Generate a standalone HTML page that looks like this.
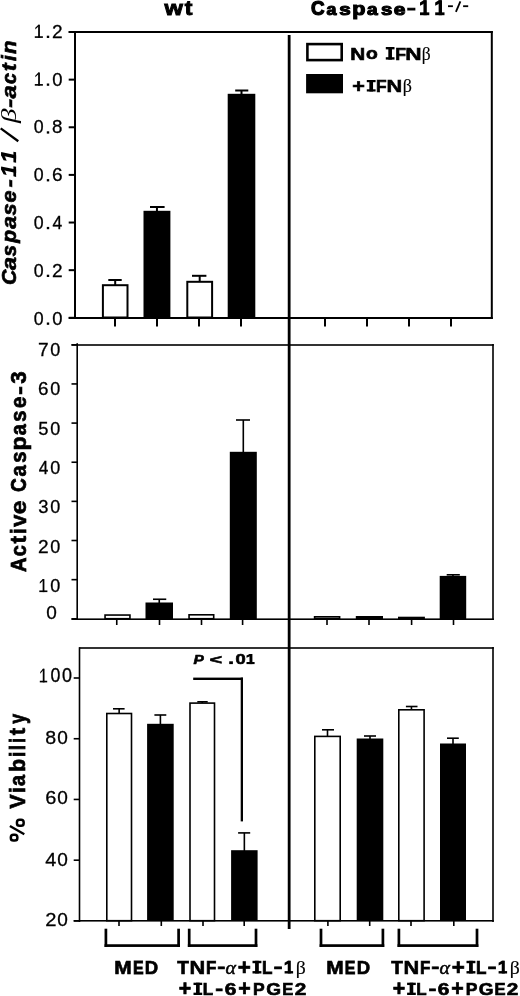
<!DOCTYPE html>
<html><head><meta charset="utf-8"><title>Caspase-11 figure</title>
<style>html,body{margin:0;padding:0;background:#fff;} svg{display:block;will-change:transform;}</style></head>
<body>
<svg width="520" height="996" viewBox="0 0 520 996">
<rect x="0" y="0" width="520" height="996" fill="#fff"/>
<rect x="74.00" y="31.00" width="2.00" height="288.00" fill="#000"/>
<rect x="68.70" y="31.00" width="424.10" height="2.00" fill="#000"/>
<rect x="490.80" y="31.00" width="2.00" height="288.00" fill="#000"/>
<rect x="68.70" y="317.00" width="424.10" height="2.00" fill="#000"/>
<rect x="68.70" y="31.00" width="6.30" height="2.00" fill="#000"/>
<rect x="68.70" y="78.63" width="6.30" height="2.00" fill="#000"/>
<rect x="68.70" y="126.27" width="6.30" height="2.00" fill="#000"/>
<rect x="68.70" y="173.90" width="6.30" height="2.00" fill="#000"/>
<rect x="68.70" y="221.53" width="6.30" height="2.00" fill="#000"/>
<rect x="68.70" y="269.17" width="6.30" height="2.00" fill="#000"/>
<rect x="68.70" y="316.80" width="6.30" height="2.00" fill="#000"/>
<rect x="114.00" y="318.00" width="2.00" height="8.50" fill="#000"/>
<rect x="156.00" y="318.00" width="2.00" height="8.50" fill="#000"/>
<rect x="198.00" y="318.00" width="2.00" height="8.50" fill="#000"/>
<rect x="240.00" y="318.00" width="2.00" height="8.50" fill="#000"/>
<rect x="324.00" y="318.00" width="2.00" height="8.50" fill="#000"/>
<rect x="366.00" y="318.00" width="2.00" height="8.50" fill="#000"/>
<rect x="408.00" y="318.00" width="2.00" height="8.50" fill="#000"/>
<rect x="450.00" y="318.00" width="2.00" height="8.50" fill="#000"/>
<rect x="114.20" y="280.00" width="2.00" height="5.20" fill="#000"/>
<rect x="108.30" y="279.00" width="13.40" height="2.00" fill="#000"/>
<rect x="101.90" y="284.20" width="26.60" height="34.30" fill="#000"/>
<rect x="103.90" y="286.20" width="22.60" height="30.30" fill="#fff"/>
<rect x="155.95" y="207.00" width="2.00" height="4.80" fill="#000"/>
<rect x="150.00" y="206.00" width="14.60" height="2.00" fill="#000"/>
<rect x="143.50" y="210.80" width="26.90" height="107.20" fill="#000"/>
<rect x="198.70" y="275.80" width="2.00" height="6.00" fill="#000"/>
<rect x="192.00" y="274.80" width="14.40" height="2.00" fill="#000"/>
<rect x="186.30" y="280.80" width="26.80" height="37.70" fill="#000"/>
<rect x="188.30" y="282.80" width="22.80" height="33.70" fill="#fff"/>
<rect x="240.50" y="90.50" width="2.00" height="4.30" fill="#000"/>
<rect x="235.20" y="89.50" width="13.10" height="2.00" fill="#000"/>
<rect x="227.70" y="93.80" width="27.60" height="224.20" fill="#000"/>
<rect x="287.75" y="35.00" width="2.80" height="894.00" fill="#000"/>
<rect x="76.40" y="343.20" width="1.60" height="276.80" fill="#000"/>
<rect x="71.50" y="344.20" width="422.30" height="1.60" fill="#000"/>
<rect x="492.20" y="344.00" width="1.60" height="276.00" fill="#000"/>
<rect x="71.50" y="618.40" width="422.30" height="1.60" fill="#000"/>
<rect x="71.50" y="344.00" width="5.70" height="1.60" fill="#000"/>
<rect x="71.50" y="383.14" width="5.70" height="1.60" fill="#000"/>
<rect x="71.50" y="422.29" width="5.70" height="1.60" fill="#000"/>
<rect x="71.50" y="461.43" width="5.70" height="1.60" fill="#000"/>
<rect x="71.50" y="500.57" width="5.70" height="1.60" fill="#000"/>
<rect x="71.50" y="539.71" width="5.70" height="1.60" fill="#000"/>
<rect x="71.50" y="578.86" width="5.70" height="1.60" fill="#000"/>
<rect x="71.50" y="618.00" width="5.70" height="1.60" fill="#000"/>
<rect x="115.95" y="619.20" width="1.60" height="5.80" fill="#000"/>
<rect x="158.70" y="619.20" width="1.60" height="5.80" fill="#000"/>
<rect x="200.70" y="619.20" width="1.60" height="5.80" fill="#000"/>
<rect x="241.80" y="619.20" width="1.60" height="5.80" fill="#000"/>
<rect x="326.20" y="619.20" width="1.60" height="5.80" fill="#000"/>
<rect x="368.20" y="619.20" width="1.60" height="5.80" fill="#000"/>
<rect x="410.80" y="619.20" width="1.60" height="5.80" fill="#000"/>
<rect x="452.70" y="619.20" width="1.60" height="5.80" fill="#000"/>
<rect x="104.25" y="614.25" width="26.50" height="5.25" fill="#000"/>
<rect x="105.85" y="615.85" width="23.30" height="2.05" fill="#fff"/>
<rect x="158.45" y="599.25" width="1.60" height="4.25" fill="#000"/>
<rect x="153.00" y="598.45" width="13.25" height="1.60" fill="#000"/>
<rect x="145.50" y="602.50" width="27.50" height="16.50" fill="#000"/>
<rect x="188.25" y="614.00" width="26.25" height="5.50" fill="#000"/>
<rect x="189.85" y="615.60" width="23.05" height="2.30" fill="#fff"/>
<rect x="242.50" y="420.00" width="1.60" height="32.80" fill="#000"/>
<rect x="236.00" y="419.20" width="14.00" height="1.60" fill="#000"/>
<rect x="229.80" y="451.80" width="27.00" height="167.20" fill="#000"/>
<rect x="313.80" y="616.00" width="26.60" height="3.50" fill="#000"/>
<rect x="315.40" y="617.60" width="23.40" height="0.30" fill="#fff"/>
<rect x="355.80" y="616.00" width="27.20" height="3.00" fill="#000"/>
<rect x="398.00" y="616.70" width="26.90" height="2.80" fill="#000"/>
<rect x="452.15" y="574.80" width="1.60" height="2.10" fill="#000"/>
<rect x="446.70" y="574.00" width="13.10" height="1.60" fill="#000"/>
<rect x="439.70" y="575.90" width="26.50" height="43.10" fill="#000"/>
<rect x="78.70" y="647.20" width="1.60" height="274.80" fill="#000"/>
<rect x="79.20" y="647.20" width="414.60" height="1.60" fill="#000"/>
<rect x="492.20" y="647.00" width="1.60" height="275.00" fill="#000"/>
<rect x="73.70" y="920.00" width="420.10" height="1.60" fill="#000"/>
<rect x="73.70" y="677.20" width="5.50" height="1.60" fill="#000"/>
<rect x="73.70" y="737.93" width="5.50" height="1.60" fill="#000"/>
<rect x="73.70" y="798.65" width="5.50" height="1.60" fill="#000"/>
<rect x="73.70" y="859.38" width="5.50" height="1.60" fill="#000"/>
<rect x="73.70" y="920.10" width="5.50" height="1.60" fill="#000"/>
<rect x="118.20" y="920.80" width="1.60" height="5.20" fill="#000"/>
<rect x="160.50" y="920.80" width="1.60" height="5.20" fill="#000"/>
<rect x="202.20" y="920.80" width="1.60" height="5.20" fill="#000"/>
<rect x="243.40" y="920.80" width="1.60" height="5.20" fill="#000"/>
<rect x="327.10" y="920.80" width="1.60" height="5.20" fill="#000"/>
<rect x="368.90" y="920.80" width="1.60" height="5.20" fill="#000"/>
<rect x="410.20" y="920.80" width="1.60" height="5.20" fill="#000"/>
<rect x="453.00" y="920.80" width="1.60" height="5.20" fill="#000"/>
<rect x="118.35" y="708.80" width="1.60" height="4.90" fill="#000"/>
<rect x="113.00" y="708.00" width="11.60" height="1.60" fill="#000"/>
<rect x="106.00" y="712.70" width="26.30" height="208.80" fill="#000"/>
<rect x="107.60" y="714.30" width="23.10" height="205.60" fill="#fff"/>
<rect x="159.60" y="715.00" width="1.60" height="9.80" fill="#000"/>
<rect x="154.40" y="714.20" width="11.90" height="1.60" fill="#000"/>
<rect x="147.10" y="723.80" width="26.60" height="197.20" fill="#000"/>
<rect x="201.45" y="701.80" width="1.60" height="1.50" fill="#000"/>
<rect x="197.30" y="701.00" width="10.40" height="1.60" fill="#000"/>
<rect x="189.20" y="702.30" width="26.10" height="219.20" fill="#000"/>
<rect x="190.80" y="703.90" width="22.90" height="216.00" fill="#fff"/>
<rect x="243.55" y="832.90" width="1.60" height="18.30" fill="#000"/>
<rect x="238.10" y="832.10" width="12.10" height="1.60" fill="#000"/>
<rect x="231.10" y="850.20" width="26.50" height="70.80" fill="#000"/>
<rect x="326.70" y="729.80" width="1.60" height="6.80" fill="#000"/>
<rect x="322.00" y="729.00" width="12.00" height="1.60" fill="#000"/>
<rect x="314.00" y="735.60" width="27.00" height="185.90" fill="#000"/>
<rect x="315.60" y="737.20" width="23.80" height="182.70" fill="#fff"/>
<rect x="369.20" y="736.00" width="1.60" height="3.50" fill="#000"/>
<rect x="364.00" y="735.20" width="12.00" height="1.60" fill="#000"/>
<rect x="356.70" y="738.50" width="26.60" height="182.50" fill="#000"/>
<rect x="410.65" y="706.50" width="1.60" height="3.50" fill="#000"/>
<rect x="405.90" y="705.70" width="11.60" height="1.60" fill="#000"/>
<rect x="398.00" y="709.00" width="26.90" height="212.50" fill="#000"/>
<rect x="399.60" y="710.60" width="23.70" height="209.30" fill="#fff"/>
<rect x="452.20" y="738.20" width="1.60" height="6.30" fill="#000"/>
<rect x="447.00" y="737.40" width="11.80" height="1.60" fill="#000"/>
<rect x="440.00" y="743.50" width="26.00" height="177.50" fill="#000"/>
<rect x="193.20" y="677.60" width="49.80" height="2.40" fill="#000"/>
<rect x="240.70" y="677.60" width="2.30" height="143.80" fill="#000"/>
<rect x="104.55" y="928.70" width="2.70" height="18.30" fill="#000"/>
<rect x="177.25" y="928.70" width="2.70" height="18.30" fill="#000"/>
<rect x="104.55" y="944.25" width="75.40" height="2.70" fill="#000"/>
<rect x="187.85" y="928.70" width="2.70" height="18.30" fill="#000"/>
<rect x="254.65" y="928.70" width="2.70" height="18.30" fill="#000"/>
<rect x="187.85" y="944.25" width="69.50" height="2.70" fill="#000"/>
<rect x="319.65" y="928.70" width="2.70" height="18.30" fill="#000"/>
<rect x="381.55" y="928.70" width="2.70" height="18.30" fill="#000"/>
<rect x="319.65" y="944.25" width="64.60" height="2.70" fill="#000"/>
<rect x="397.55" y="928.70" width="2.70" height="18.30" fill="#000"/>
<rect x="475.65" y="928.70" width="2.70" height="18.30" fill="#000"/>
<rect x="397.55" y="944.25" width="80.80" height="2.70" fill="#000"/>
<rect x="38.14" y="24.80" width="1.75" height="13.10"/>
<rect x="34.80" y="36.25" width="8.10" height="1.65"/>
<polygon points="38.34,24.80 39.59,24.80 38.14,26.80 35.29,29.53 35.29,27.85"/>
<rect x="46.80" y="35.70" width="2.40" height="2.30" fill="#000"/>
<text transform="translate(52.09,37.77) scale(1.0243,1)" font-family="Liberation Sans" font-weight="normal" font-style="normal" font-size="18.643862068965515" stroke="#000" stroke-width="0.293">2</text>
<rect x="38.14" y="72.60" width="1.75" height="13.10"/>
<rect x="34.80" y="84.05" width="8.10" height="1.65"/>
<polygon points="38.34,72.60 39.59,72.60 38.14,74.60 35.29,77.33 35.29,75.65"/>
<rect x="46.80" y="83.50" width="2.40" height="2.30" fill="#000"/>
<text transform="translate(52.13,85.57) scale(0.9874,1)" font-family="Liberation Sans" font-weight="normal" font-style="normal" font-size="18.643862068965515" stroke="#000" stroke-width="0.304">0</text>
<text transform="translate(33.86,133.37) scale(0.9537,1)" font-family="Liberation Sans" font-weight="normal" font-style="normal" font-size="18.643862068965497" stroke="#000" stroke-width="0.315">0</text>
<rect x="46.80" y="131.30" width="2.40" height="2.30" fill="#000"/>
<text transform="translate(52.04,133.37) scale(1.0059,1)" font-family="Liberation Sans" font-weight="normal" font-style="normal" font-size="18.643862068965497" stroke="#000" stroke-width="0.298">8</text>
<text transform="translate(33.86,181.17) scale(0.9537,1)" font-family="Liberation Sans" font-weight="normal" font-style="normal" font-size="18.643862068965515" stroke="#000" stroke-width="0.315">0</text>
<rect x="46.80" y="179.10" width="2.40" height="2.30" fill="#000"/>
<text transform="translate(51.88,181.17) scale(1.0229,1)" font-family="Liberation Sans" font-weight="normal" font-style="normal" font-size="18.643862068965515" stroke="#000" stroke-width="0.293">6</text>
<text transform="translate(33.86,228.97) scale(0.9537,1)" font-family="Liberation Sans" font-weight="normal" font-style="normal" font-size="18.643862068965515" stroke="#000" stroke-width="0.315">0</text>
<rect x="46.80" y="226.90" width="2.40" height="2.30" fill="#000"/>
<text transform="translate(52.45,228.97) scale(0.9367,1)" font-family="Liberation Sans" font-weight="normal" font-style="normal" font-size="18.643862068965515" stroke="#000" stroke-width="0.320">4</text>
<text transform="translate(33.86,276.77) scale(0.9537,1)" font-family="Liberation Sans" font-weight="normal" font-style="normal" font-size="18.643862068965515" stroke="#000" stroke-width="0.315">0</text>
<rect x="46.80" y="274.70" width="2.40" height="2.30" fill="#000"/>
<text transform="translate(52.09,276.77) scale(1.0243,1)" font-family="Liberation Sans" font-weight="normal" font-style="normal" font-size="18.643862068965515" stroke="#000" stroke-width="0.293">2</text>
<text transform="translate(33.86,324.57) scale(0.9537,1)" font-family="Liberation Sans" font-weight="normal" font-style="normal" font-size="18.643862068965515" stroke="#000" stroke-width="0.315">0</text>
<rect x="46.80" y="322.50" width="2.40" height="2.30" fill="#000"/>
<text transform="translate(52.13,324.57) scale(0.9874,1)" font-family="Liberation Sans" font-weight="normal" font-style="normal" font-size="18.643862068965515" stroke="#000" stroke-width="0.304">0</text>
<text transform="translate(38.07,356.27) scale(1.0343,1)" font-family="Liberation Sans" font-weight="normal" font-style="normal" font-size="18.50262068965514" stroke="#000" stroke-width="0.290">7</text>
<text transform="translate(50.35,356.27) scale(0.9723,1)" font-family="Liberation Sans" font-weight="normal" font-style="normal" font-size="18.50262068965514" stroke="#000" stroke-width="0.309">0</text>
<text transform="translate(38.09,395.27) scale(1.0190,1)" font-family="Liberation Sans" font-weight="normal" font-style="normal" font-size="18.50262068965514" stroke="#000" stroke-width="0.294">6</text>
<text transform="translate(50.35,395.27) scale(0.9723,1)" font-family="Liberation Sans" font-weight="normal" font-style="normal" font-size="18.50262068965514" stroke="#000" stroke-width="0.309">0</text>
<text transform="translate(38.32,434.67) scale(0.9917,1)" font-family="Liberation Sans" font-weight="normal" font-style="normal" font-size="18.50262068965514" stroke="#000" stroke-width="0.302">5</text>
<text transform="translate(50.35,434.67) scale(0.9723,1)" font-family="Liberation Sans" font-weight="normal" font-style="normal" font-size="18.50262068965514" stroke="#000" stroke-width="0.309">0</text>
<text transform="translate(38.65,473.87) scale(0.9331,1)" font-family="Liberation Sans" font-weight="normal" font-style="normal" font-size="18.50262068965514" stroke="#000" stroke-width="0.322">4</text>
<text transform="translate(50.35,473.87) scale(0.9723,1)" font-family="Liberation Sans" font-weight="normal" font-style="normal" font-size="18.50262068965514" stroke="#000" stroke-width="0.309">0</text>
<text transform="translate(38.35,513.27) scale(0.9917,1)" font-family="Liberation Sans" font-weight="normal" font-style="normal" font-size="18.50262068965522" stroke="#000" stroke-width="0.302">3</text>
<text transform="translate(50.35,513.27) scale(0.9723,1)" font-family="Liberation Sans" font-weight="normal" font-style="normal" font-size="18.50262068965522" stroke="#000" stroke-width="0.309">0</text>
<text transform="translate(38.09,552.77) scale(1.0321,1)" font-family="Liberation Sans" font-weight="normal" font-style="normal" font-size="18.50262068965514" stroke="#000" stroke-width="0.291">2</text>
<text transform="translate(50.35,552.77) scale(0.9723,1)" font-family="Liberation Sans" font-weight="normal" font-style="normal" font-size="18.50262068965514" stroke="#000" stroke-width="0.309">0</text>
<rect x="42.64" y="579.10" width="1.75" height="13.00"/>
<rect x="39.30" y="590.45" width="8.10" height="1.65"/>
<polygon points="42.84,579.10 44.09,579.10 42.64,581.10 39.79,583.80 39.79,582.12"/>
<text transform="translate(50.35,591.97) scale(0.9723,1)" font-family="Liberation Sans" font-weight="normal" font-style="normal" font-size="18.50262068965514" stroke="#000" stroke-width="0.309">0</text>
<text transform="translate(46.21,618.87) scale(1.0448,1)" font-family="Liberation Sans" font-weight="normal" font-style="normal" font-size="18.220137931034547" stroke="#000" stroke-width="0.287">0</text>
<rect x="42.77" y="668.80" width="1.75" height="13.60"/>
<rect x="39.80" y="680.75" width="7.40" height="1.65"/>
<polygon points="42.97,668.80 44.22,668.80 42.77,670.80 40.24,673.68 40.24,672.00"/>
<text transform="translate(50.46,682.26) scale(0.9189,1)" font-family="Liberation Sans" font-weight="normal" font-style="normal" font-size="19.35006896551724" stroke="#000" stroke-width="0.326">0</text>
<text transform="translate(61.95,682.26) scale(0.9297,1)" font-family="Liberation Sans" font-weight="normal" font-style="normal" font-size="19.35006896551724" stroke="#000" stroke-width="0.323">0</text>
<text transform="translate(45.30,743.57) scale(1.0437,1)" font-family="Liberation Sans" font-weight="normal" font-style="normal" font-size="18.785103448275894" stroke="#000" stroke-width="0.287">8</text>
<text transform="translate(57.21,743.57) scale(1.0134,1)" font-family="Liberation Sans" font-weight="normal" font-style="normal" font-size="18.785103448275894" stroke="#000" stroke-width="0.296">0</text>
<text transform="translate(45.14,804.07) scale(1.0614,1)" font-family="Liberation Sans" font-weight="normal" font-style="normal" font-size="18.785103448275894" stroke="#000" stroke-width="0.283">6</text>
<text transform="translate(57.21,804.07) scale(1.0134,1)" font-family="Liberation Sans" font-weight="normal" font-style="normal" font-size="18.785103448275894" stroke="#000" stroke-width="0.296">0</text>
<text transform="translate(45.19,865.57) scale(1.0564,1)" font-family="Liberation Sans" font-weight="normal" font-style="normal" font-size="18.785103448275894" stroke="#000" stroke-width="0.284">4</text>
<text transform="translate(57.21,865.57) scale(1.0134,1)" font-family="Liberation Sans" font-weight="normal" font-style="normal" font-size="18.785103448275894" stroke="#000" stroke-width="0.296">0</text>
<text transform="translate(45.13,926.07) scale(1.0750,1)" font-family="Liberation Sans" font-weight="normal" font-style="normal" font-size="18.785103448275894" stroke="#000" stroke-width="0.279">2</text>
<text transform="translate(57.21,926.07) scale(1.0134,1)" font-family="Liberation Sans" font-weight="normal" font-style="normal" font-size="18.785103448275894" stroke="#000" stroke-width="0.296">0</text>
<text transform="translate(114.35,973.50) scale(1.2012,1)" font-family="Liberation Sans" font-weight="bold" font-style="normal" font-size="17.442157558552232" stroke="#000" stroke-width="0.583">M</text>
<text transform="translate(132.88,973.50) scale(0.9146,1)" font-family="Liberation Sans" font-weight="bold" font-style="normal" font-size="17.442157558552232" stroke="#000" stroke-width="0.765">E</text>
<text transform="translate(144.76,973.50) scale(1.0611,1)" font-family="Liberation Sans" font-weight="bold" font-style="normal" font-size="17.442157558552232" stroke="#000" stroke-width="0.660">D</text>
<text transform="translate(326.25,973.50) scale(1.2012,1)" font-family="Liberation Sans" font-weight="bold" font-style="normal" font-size="17.442157558552232" stroke="#000" stroke-width="0.583">M</text>
<text transform="translate(344.78,973.50) scale(0.9146,1)" font-family="Liberation Sans" font-weight="bold" font-style="normal" font-size="17.442157558552232" stroke="#000" stroke-width="0.765">E</text>
<text transform="translate(356.66,973.50) scale(1.0611,1)" font-family="Liberation Sans" font-weight="bold" font-style="normal" font-size="17.442157558552232" stroke="#000" stroke-width="0.660">D</text>
<text transform="translate(177.24,973.50) scale(1.0904,1)" font-family="Liberation Sans" font-weight="bold" font-style="normal" font-size="17.442157558552232" stroke="#000" stroke-width="0.642">T</text>
<text transform="translate(189.49,973.50) scale(1.2483,1)" font-family="Liberation Sans" font-weight="bold" font-style="normal" font-size="17.442157558552232" stroke="#000" stroke-width="0.561">N</text>
<text transform="translate(206.02,973.50) scale(0.9719,1)" font-family="Liberation Sans" font-weight="bold" font-style="normal" font-size="17.442157558552232" stroke="#000" stroke-width="0.720">F</text>
<text transform="translate(217.30,973.07) scale(1.4000,1.0106)" font-family="Liberation Sans" font-weight="bold" font-style="normal" font-size="17.442157558552232" stroke="#000" stroke-width="0.581">-</text>
<text transform="translate(225.46,973.76) scale(1.1428,1.0350)" font-family="Liberation Serif" font-weight="normal" font-style="italic" font-size="17.442157558552232" stroke="#000" stroke-width="0.459">&#945;</text>
<text transform="translate(237.71,974.57) scale(1.2805,1.2532)" font-family="Liberation Sans" font-weight="bold" font-style="normal" font-size="17.442157558552232" stroke="#000" stroke-width="0.553">+</text>
<rect x="252.50" y="960.80" width="8.90" height="2.41"/>
<rect x="252.50" y="971.09" width="8.90" height="2.41"/>
<rect x="255.08" y="960.80" width="3.74" height="12.70"/>
<text transform="translate(262.10,973.50) scale(0.9831,1)" font-family="Liberation Sans" font-weight="bold" font-style="normal" font-size="17.442157558552232" stroke="#000" stroke-width="0.712">L</text>
<text transform="translate(273.47,973.07) scale(1.5806,1.0106)" font-family="Liberation Sans" font-weight="bold" font-style="normal" font-size="17.442157558552232" stroke="#000" stroke-width="0.540">-</text>
<rect x="287.75" y="960.80" width="3.06" height="12.70"/>
<rect x="284.60" y="971.09" width="8.50" height="2.41"/>
<polygon points="287.95,960.80 290.50,960.80 287.75,963.98 284.60,965.50 284.60,962.83"/>
<text transform="translate(295.70,973.97) scale(1.1342,1.0660)" font-family="Liberation Serif" font-weight="normal" font-style="normal" font-size="17.442157558552232" stroke="#000" stroke-width="0.136">&#946;</text>
<text transform="translate(391.24,973.50) scale(1.0904,1)" font-family="Liberation Sans" font-weight="bold" font-style="normal" font-size="17.442157558552232" stroke="#000" stroke-width="0.642">T</text>
<text transform="translate(403.49,973.50) scale(1.2483,1)" font-family="Liberation Sans" font-weight="bold" font-style="normal" font-size="17.442157558552232" stroke="#000" stroke-width="0.561">N</text>
<text transform="translate(420.02,973.50) scale(0.9719,1)" font-family="Liberation Sans" font-weight="bold" font-style="normal" font-size="17.442157558552232" stroke="#000" stroke-width="0.720">F</text>
<text transform="translate(431.30,973.07) scale(1.4000,1.0106)" font-family="Liberation Sans" font-weight="bold" font-style="normal" font-size="17.442157558552232" stroke="#000" stroke-width="0.581">-</text>
<text transform="translate(439.46,973.76) scale(1.1428,1.0350)" font-family="Liberation Serif" font-weight="normal" font-style="italic" font-size="17.442157558552232" stroke="#000" stroke-width="0.459">&#945;</text>
<text transform="translate(451.71,974.57) scale(1.2805,1.2532)" font-family="Liberation Sans" font-weight="bold" font-style="normal" font-size="17.442157558552232" stroke="#000" stroke-width="0.553">+</text>
<rect x="466.50" y="960.80" width="8.90" height="2.41"/>
<rect x="466.50" y="971.09" width="8.90" height="2.41"/>
<rect x="469.08" y="960.80" width="3.74" height="12.70"/>
<text transform="translate(476.10,973.50) scale(0.9831,1)" font-family="Liberation Sans" font-weight="bold" font-style="normal" font-size="17.442157558552232" stroke="#000" stroke-width="0.712">L</text>
<text transform="translate(487.47,973.07) scale(1.5806,1.0106)" font-family="Liberation Sans" font-weight="bold" font-style="normal" font-size="17.442157558552232" stroke="#000" stroke-width="0.540">-</text>
<rect x="501.75" y="960.80" width="3.06" height="12.70"/>
<rect x="498.60" y="971.09" width="8.50" height="2.41"/>
<polygon points="501.95,960.80 504.50,960.80 501.75,963.98 498.60,965.50 498.60,962.83"/>
<text transform="translate(509.70,973.97) scale(1.1342,1.0660)" font-family="Liberation Serif" font-weight="normal" font-style="normal" font-size="17.442157558552232" stroke="#000" stroke-width="0.136">&#946;</text>
<text transform="translate(178.85,996.35) scale(1.2655,1.2847)" font-family="Liberation Sans" font-weight="bold" font-style="normal" font-size="16.86075230660036" stroke="#000" stroke-width="0.549">+</text>
<rect x="193.50" y="982.70" width="8.70" height="2.34"/>
<rect x="193.50" y="992.66" width="8.70" height="2.34"/>
<rect x="196.02" y="982.70" width="3.65" height="12.30"/>
<text transform="translate(202.82,995.00) scale(1.0055,1)" font-family="Liberation Sans" font-weight="bold" font-style="normal" font-size="16.86075230660036" stroke="#000" stroke-width="0.696">L</text>
<text transform="translate(215.13,994.97) scale(1.4015,1.0454)" font-family="Liberation Sans" font-weight="bold" font-style="normal" font-size="16.86075230660036" stroke="#000" stroke-width="0.572">-</text>
<text transform="translate(224.68,994.78) scale(1.2392,1.0220)" font-family="Liberation Sans" font-weight="bold" font-style="normal" font-size="16.86075230660036" stroke="#000" stroke-width="0.619">6</text>
<text transform="translate(238.25,996.35) scale(1.2655,1.2847)" font-family="Liberation Sans" font-weight="bold" font-style="normal" font-size="16.86075230660036" stroke="#000" stroke-width="0.549">+</text>
<text transform="translate(252.98,995.00) scale(1.0375,1)" font-family="Liberation Sans" font-weight="bold" font-style="normal" font-size="16.86075230660036" stroke="#000" stroke-width="0.675">P</text>
<text transform="translate(266.17,994.78) scale(1.1250,1.0220)" font-family="Liberation Sans" font-weight="bold" font-style="normal" font-size="16.86075230660036" stroke="#000" stroke-width="0.652">G</text>
<text transform="translate(282.14,995.00) scale(0.9831,1)" font-family="Liberation Sans" font-weight="bold" font-style="normal" font-size="16.86075230660036" stroke="#000" stroke-width="0.712">E</text>
<text transform="translate(294.63,994.65) scale(1.2319,1.0108)" font-family="Liberation Sans" font-weight="bold" font-style="normal" font-size="16.86075230660036" stroke="#000" stroke-width="0.624">2</text>
<text transform="translate(392.65,996.35) scale(1.2655,1.2847)" font-family="Liberation Sans" font-weight="bold" font-style="normal" font-size="16.86075230660036" stroke="#000" stroke-width="0.549">+</text>
<rect x="407.10" y="982.70" width="8.70" height="2.34"/>
<rect x="407.10" y="992.66" width="8.70" height="2.34"/>
<rect x="409.62" y="982.70" width="3.65" height="12.30"/>
<text transform="translate(416.27,995.00) scale(1.0055,1)" font-family="Liberation Sans" font-weight="bold" font-style="normal" font-size="16.86075230660036" stroke="#000" stroke-width="0.696">L</text>
<text transform="translate(428.41,994.97) scale(1.4015,1.0454)" font-family="Liberation Sans" font-weight="bold" font-style="normal" font-size="16.86075230660036" stroke="#000" stroke-width="0.572">-</text>
<text transform="translate(437.83,994.78) scale(1.2392,1.0220)" font-family="Liberation Sans" font-weight="bold" font-style="normal" font-size="16.86075230660036" stroke="#000" stroke-width="0.619">6</text>
<text transform="translate(451.21,996.35) scale(1.2655,1.2847)" font-family="Liberation Sans" font-weight="bold" font-style="normal" font-size="16.86075230660036" stroke="#000" stroke-width="0.549">+</text>
<text transform="translate(465.72,995.00) scale(1.0375,1)" font-family="Liberation Sans" font-weight="bold" font-style="normal" font-size="16.86075230660036" stroke="#000" stroke-width="0.675">P</text>
<text transform="translate(478.73,994.78) scale(1.1250,1.0220)" font-family="Liberation Sans" font-weight="bold" font-style="normal" font-size="16.86075230660036" stroke="#000" stroke-width="0.652">G</text>
<text transform="translate(494.47,995.00) scale(0.9831,1)" font-family="Liberation Sans" font-weight="bold" font-style="normal" font-size="16.86075230660036" stroke="#000" stroke-width="0.712">E</text>
<text transform="translate(506.78,994.65) scale(1.2319,1.0108)" font-family="Liberation Sans" font-weight="bold" font-style="normal" font-size="16.86075230660036" stroke="#000" stroke-width="0.624">2</text>
<text transform="translate(164.57,14.70) scale(1.2045,1.0225)" font-family="Liberation Sans" font-weight="bold" font-style="normal" font-size="19.622427253371185" stroke="#000" stroke-width="0.898">w</text>
<text transform="translate(184.82,14.53) scale(1.1725,0.9944)" font-family="Liberation Sans" font-weight="bold" font-style="normal" font-size="19.622427253371185" stroke="#000" stroke-width="0.923">t</text>
<text transform="translate(311.03,14.50) scale(0.9379,1.0140)" font-family="Liberation Sans" font-weight="bold" font-style="normal" font-size="20.05848119233499" stroke="#000" stroke-width="1.230">C</text>
<text transform="translate(326.58,14.53) scale(0.8882,0.8645)" font-family="Liberation Sans" font-weight="bold" font-style="normal" font-size="20.05848119233499" stroke="#000" stroke-width="1.369">a</text>
<text transform="translate(339.37,14.53) scale(1.0283,0.8637)" font-family="Liberation Sans" font-weight="bold" font-style="normal" font-size="20.05848119233499" stroke="#000" stroke-width="1.268">s</text>
<text transform="translate(352.37,14.95) scale(1.0784,0.9009)" font-family="Liberation Sans" font-weight="bold" font-style="normal" font-size="20.05848119233499" stroke="#000" stroke-width="1.213">p</text>
<text transform="translate(367.04,14.53) scale(0.9537,0.8645)" font-family="Liberation Sans" font-weight="bold" font-style="normal" font-size="20.05848119233499" stroke="#000" stroke-width="1.320">a</text>
<text transform="translate(381.08,14.53) scale(1.0179,0.8637)" font-family="Liberation Sans" font-weight="bold" font-style="normal" font-size="20.05848119233499" stroke="#000" stroke-width="1.275">s</text>
<text transform="translate(393.68,14.53) scale(1.0427,0.8645)" font-family="Liberation Sans" font-weight="bold" font-style="normal" font-size="20.05848119233499" stroke="#000" stroke-width="1.258">e</text>
<text transform="translate(407.08,12.65) scale(1.2959,0.7114)" font-family="Liberation Sans" font-weight="bold" font-style="normal" font-size="20.05848119233499" stroke="#000" stroke-width="1.196">-</text>
<rect x="423.44" y="0.20" width="3.35" height="15.00"/>
<rect x="420.00" y="12.35" width="9.30" height="2.85"/>
<polygon points="423.64,0.20 426.49,0.20 423.44,3.95 420.00,5.75 420.00,2.60"/>
<rect x="438.64" y="0.20" width="3.35" height="15.00"/>
<rect x="435.20" y="12.35" width="9.30" height="2.85"/>
<polygon points="438.84,0.20 441.69,0.20 438.64,3.95 435.20,5.75 435.20,2.60"/>
<rect x="448.00" y="5.30" width="4.90" height="1.80" fill="#000"/>
<rect x="463.10" y="5.30" width="5.10" height="1.80" fill="#000"/>
<line x1="455.9" y1="11.9" x2="460.4" y2="1.4" stroke="#000" stroke-width="1.8"/>
<rect x="306.10" y="42.80" width="36.90" height="18.60" fill="#000"/>
<rect x="308.70" y="45.40" width="31.70" height="13.40" fill="#fff"/>
<rect x="306.10" y="74.00" width="36.90" height="19.30" fill="#000"/>
<text transform="translate(350.36,59.60) scale(1.1998,1)" font-family="Liberation Sans" font-weight="bold" font-style="normal" font-size="17.296806245564234" stroke="#000" stroke-width="0.583">N</text>
<text transform="translate(365.89,59.39) scale(1.1178,0.9709)" font-family="Liberation Sans" font-weight="bold" font-style="normal" font-size="17.296806245564234" stroke="#000" stroke-width="0.670">o</text>
<rect x="385.80" y="47.00" width="8.70" height="2.39"/>
<rect x="385.80" y="57.21" width="8.70" height="2.39"/>
<rect x="388.32" y="47.00" width="3.65" height="12.60"/>
<text transform="translate(395.18,59.60) scale(1.0142,1)" font-family="Liberation Sans" font-weight="bold" font-style="normal" font-size="17.296806245564234" stroke="#000" stroke-width="0.690">F</text>
<text transform="translate(405.34,59.60) scale(1.3079,1)" font-family="Liberation Sans" font-weight="bold" font-style="normal" font-size="17.296806245564234" stroke="#000" stroke-width="0.535">N</text>
<text transform="translate(421.84,60.31) scale(1.0143,1.1443)" font-family="Liberation Serif" font-weight="normal" font-style="normal" font-size="17.296806245564234" stroke="#000" stroke-width="0.139">&#946;</text>
<text transform="translate(352.15,92.06) scale(1.3720,1.1416)" font-family="Liberation Sans" font-weight="bold" font-style="normal" font-size="15.697941802696949" stroke="#000" stroke-width="0.557">+</text>
<rect x="366.80" y="80.00" width="8.80" height="2.19"/>
<rect x="366.80" y="89.31" width="8.80" height="2.19"/>
<rect x="369.35" y="80.00" width="3.70" height="11.50"/>
<text transform="translate(376.09,91.50) scale(1.1050,1)" font-family="Liberation Sans" font-weight="bold" font-style="normal" font-size="15.697941802696949" stroke="#000" stroke-width="0.633">F</text>
<text transform="translate(386.59,91.50) scale(1.3870,1)" font-family="Liberation Sans" font-weight="bold" font-style="normal" font-size="15.697941802696949" stroke="#000" stroke-width="0.505">N</text>
<text transform="translate(402.81,92.08) scale(1.1493,1.1497)" font-family="Liberation Serif" font-weight="normal" font-style="normal" font-size="15.697941802696949" stroke="#000" stroke-width="0.130">&#946;</text>
<text transform="translate(193.48,664.10) scale(1.1245,1)" font-family="Liberation Sans" font-weight="bold" font-style="italic" font-size="13.663023420865896" stroke="#000" stroke-width="0.623">P</text>
<text transform="translate(209.71,663.97) scale(1.5099,0.9010)" font-family="Liberation Sans" font-weight="bold" font-style="normal" font-size="14" stroke="#000" stroke-width="0.664">&lt;</text>
<rect x="229.20" y="661.30" width="3.70" height="2.80" fill="#000"/>
<text transform="translate(235.43,663.81) scale(1.3067,0.9887)" font-family="Liberation Sans" font-weight="bold" font-style="normal" font-size="14" stroke="#000" stroke-width="0.610">0</text>
<rect x="249.50" y="654.00" width="2.90" height="10.10"/>
<rect x="246.50" y="662.00" width="8.10" height="2.10"/>
<polygon points="249.70,654.00 252.10,654.00 249.50,656.62 246.50,657.78 246.50,655.57"/>
<g transform="translate(16.10,0) rotate(-90)"><text transform="translate(-285.09,0.00) scale(1.0326,1)" font-family="Liberation Sans" font-weight="bold" font-style="italic" font-size="20.63988644428673" stroke="#000" stroke-width="0.678">C</text><text transform="translate(-270.07,0.00) scale(1.1417,1)" font-family="Liberation Sans" font-weight="bold" font-style="italic" font-size="20.63988644428673" stroke="#000" stroke-width="0.613">a</text><text transform="translate(-256.58,0.00) scale(0.9960,1)" font-family="Liberation Sans" font-weight="bold" font-style="italic" font-size="20.63988644428673" stroke="#000" stroke-width="0.703">s</text><text transform="translate(-242.69,0.00) scale(1.0165,1)" font-family="Liberation Sans" font-weight="bold" font-style="italic" font-size="20.63988644428673" stroke="#000" stroke-width="0.689">p</text><text transform="translate(-228.76,0.00) scale(1.1046,1)" font-family="Liberation Sans" font-weight="bold" font-style="italic" font-size="20.63988644428673" stroke="#000" stroke-width="0.634">a</text><text transform="translate(-215.39,0.00) scale(1.0530,1)" font-family="Liberation Sans" font-weight="bold" font-style="italic" font-size="20.63988644428673" stroke="#000" stroke-width="0.665">s</text><text transform="translate(-202.51,0.00) scale(1.0419,1)" font-family="Liberation Sans" font-weight="bold" font-style="italic" font-size="20.63988644428673" stroke="#000" stroke-width="0.672">e</text><text transform="translate(-187.53,0.00) scale(1.2075,1)" font-family="Liberation Sans" font-weight="bold" font-style="italic" font-size="20.63988644428673" stroke="#000" stroke-width="0.580">-</text><g transform="skewX(-12)"><rect x="-173.02" y="-14.90" width="3.47" height="14.90"/><rect x="-176.90" y="-2.68" width="10.20" height="2.68"/><polygon points="-172.82,-14.90 -169.86,-14.90 -173.02,-11.18 -176.90,-9.39 -176.90,-12.52"/></g><g transform="skewX(-12)"><rect x="-158.77" y="-14.90" width="3.60" height="14.90"/><rect x="-162.80" y="-2.68" width="10.60" height="2.68"/><polygon points="-158.57,-14.90 -155.47,-14.90 -158.77,-11.18 -162.80,-9.39 -162.80,-12.52"/></g></g>
<g transform="translate(16.10,0) rotate(-90)"><text transform="translate(-108.01,0.00) scale(1.3475,1)" font-family="Liberation Sans" font-weight="bold" font-style="italic" font-size="20.63988644428673" stroke="#000" stroke-width="0.519">-</text><text transform="translate(-98.47,0.00) scale(1.1695,1)" font-family="Liberation Sans" font-weight="bold" font-style="italic" font-size="20.63988644428673" stroke="#000" stroke-width="0.599">a</text><text transform="translate(-83.95,0.00) scale(0.9486,1)" font-family="Liberation Sans" font-weight="bold" font-style="italic" font-size="20.63988644428673" stroke="#000" stroke-width="0.738">c</text><text transform="translate(-71.24,0.00) scale(1.1472,1)" font-family="Liberation Sans" font-weight="bold" font-style="italic" font-size="20.63988644428673" stroke="#000" stroke-width="0.610">t</text><text transform="translate(-61.00,0.00) scale(0.9940,1)" font-family="Liberation Sans" font-weight="bold" font-style="italic" font-size="20.63988644428673" stroke="#000" stroke-width="0.704">i</text><text transform="translate(-54.03,0.00) scale(1.0713,1)" font-family="Liberation Sans" font-weight="bold" font-style="italic" font-size="20.63988644428673" stroke="#000" stroke-width="0.653">n</text></g>
<line x1="18.3" y1="141.2" x2="0.7" y2="128.4" stroke="#000" stroke-width="2.3"/>
<text transform="translate(16.3,123.0) rotate(-90)" font-family="Liberation Serif" font-size="20" font-style="italic" textLength="14.5" lengthAdjust="spacingAndGlyphs">&#946;</text>
<g transform="translate(26.30,0) rotate(-90)"><text transform="translate(-571.95,0.00) scale(0.9412,1)" font-family="Liberation Sans" font-weight="bold" font-style="normal" font-size="21.22129169623847" stroke="#000" stroke-width="0.744">A</text><text transform="translate(-556.13,0.00) scale(0.9371,1)" font-family="Liberation Sans" font-weight="bold" font-style="normal" font-size="21.22129169623847" stroke="#000" stroke-width="0.747">c</text><text transform="translate(-543.53,0.00) scale(1.0842,1)" font-family="Liberation Sans" font-weight="bold" font-style="normal" font-size="21.22129169623847" stroke="#000" stroke-width="0.646">t</text><text transform="translate(-534.07,0.00) scale(0.9616,1)" font-family="Liberation Sans" font-weight="bold" font-style="normal" font-size="21.22129169623847" stroke="#000" stroke-width="0.728">i</text><text transform="translate(-526.64,0.00) scale(1.0322,1)" font-family="Liberation Sans" font-weight="bold" font-style="normal" font-size="21.22129169623847" stroke="#000" stroke-width="0.678">v</text><text transform="translate(-514.32,0.00) scale(1.1710,1)" font-family="Liberation Sans" font-weight="bold" font-style="normal" font-size="21.22129169623847" stroke="#000" stroke-width="0.598">e</text><text transform="translate(-491.93,0.00) scale(0.9009,1)" font-family="Liberation Sans" font-weight="bold" font-style="normal" font-size="21.22129169623847" stroke="#000" stroke-width="0.777">C</text><text transform="translate(-476.55,0.00) scale(0.9633,1)" font-family="Liberation Sans" font-weight="bold" font-style="normal" font-size="21.22129169623847" stroke="#000" stroke-width="0.727">a</text><text transform="translate(-462.76,0.00) scale(0.9523,1)" font-family="Liberation Sans" font-weight="bold" font-style="normal" font-size="21.22129169623847" stroke="#000" stroke-width="0.735">s</text><text transform="translate(-450.38,0.00) scale(1.0941,1)" font-family="Liberation Sans" font-weight="bold" font-style="normal" font-size="21.22129169623847" stroke="#000" stroke-width="0.640">p</text><text transform="translate(-435.33,0.00) scale(0.9368,1)" font-family="Liberation Sans" font-weight="bold" font-style="normal" font-size="21.22129169623847" stroke="#000" stroke-width="0.747">a</text><text transform="translate(-421.66,0.00) scale(0.9523,1)" font-family="Liberation Sans" font-weight="bold" font-style="normal" font-size="21.22129169623847" stroke="#000" stroke-width="0.735">s</text><text transform="translate(-407.95,0.00) scale(0.9660,1)" font-family="Liberation Sans" font-weight="bold" font-style="normal" font-size="21.22129169623847" stroke="#000" stroke-width="0.725">e</text><text transform="translate(-395.00,0.00) scale(1.2620,1)" font-family="Liberation Sans" font-weight="bold" font-style="normal" font-size="21.22129169623847" stroke="#000" stroke-width="0.555">-</text><text transform="translate(-383.76,0.00) scale(1.0523,1)" font-family="Liberation Sans" font-weight="bold" font-style="normal" font-size="21.22129169623847" stroke="#000" stroke-width="0.665">3</text></g>
<g transform="translate(24.60,0) rotate(-90)"><text transform="translate(-808.70,0.00) scale(1.0172,1)" font-family="Liberation Sans" font-weight="bold" font-style="normal" font-size="21.366643009226404" stroke="#000" stroke-width="0.688">V</text><text transform="translate(-793.18,0.00) scale(1.0233,1)" font-family="Liberation Sans" font-weight="bold" font-style="normal" font-size="21.366643009226404" stroke="#000" stroke-width="0.684">i</text><text transform="translate(-785.93,0.00) scale(0.9304,1)" font-family="Liberation Sans" font-weight="bold" font-style="normal" font-size="21.366643009226404" stroke="#000" stroke-width="0.752">a</text><text transform="translate(-771.74,0.00) scale(0.9845,1)" font-family="Liberation Sans" font-weight="bold" font-style="normal" font-size="21.366643009226404" stroke="#000" stroke-width="0.711">b</text><text transform="translate(-757.07,0.00) scale(0.8869,1)" font-family="Liberation Sans" font-weight="bold" font-style="normal" font-size="21.366643009226404" stroke="#000" stroke-width="0.789">i</text><text transform="translate(-750.07,0.00) scale(0.8187,1)" font-family="Liberation Sans" font-weight="bold" font-style="normal" font-size="21.366643009226404" stroke="#000" stroke-width="0.855">l</text><text transform="translate(-742.72,0.00) scale(0.7845,1)" font-family="Liberation Sans" font-weight="bold" font-style="normal" font-size="21.366643009226404" stroke="#000" stroke-width="0.892">i</text><text transform="translate(-735.22,0.00) scale(1.0313,1)" font-family="Liberation Sans" font-weight="bold" font-style="normal" font-size="21.366643009226404" stroke="#000" stroke-width="0.679">t</text><text transform="translate(-723.69,0.00) scale(0.8275,1)" font-family="Liberation Sans" font-weight="bold" font-style="normal" font-size="21.366643009226404" stroke="#000" stroke-width="0.846">y</text></g>
<rect x="10.85" y="834.75" width="6.5" height="5.8" rx="2.6" fill="none" stroke="#000" stroke-width="2.5"/>
<rect x="16.95" y="819.75" width="6.7" height="6.1" rx="2.6" fill="none" stroke="#000" stroke-width="2.5"/>
<line x1="9.9" y1="826.0" x2="24.3" y2="834.2" stroke="#000" stroke-width="2.3"/>
</svg>
</body></html>
